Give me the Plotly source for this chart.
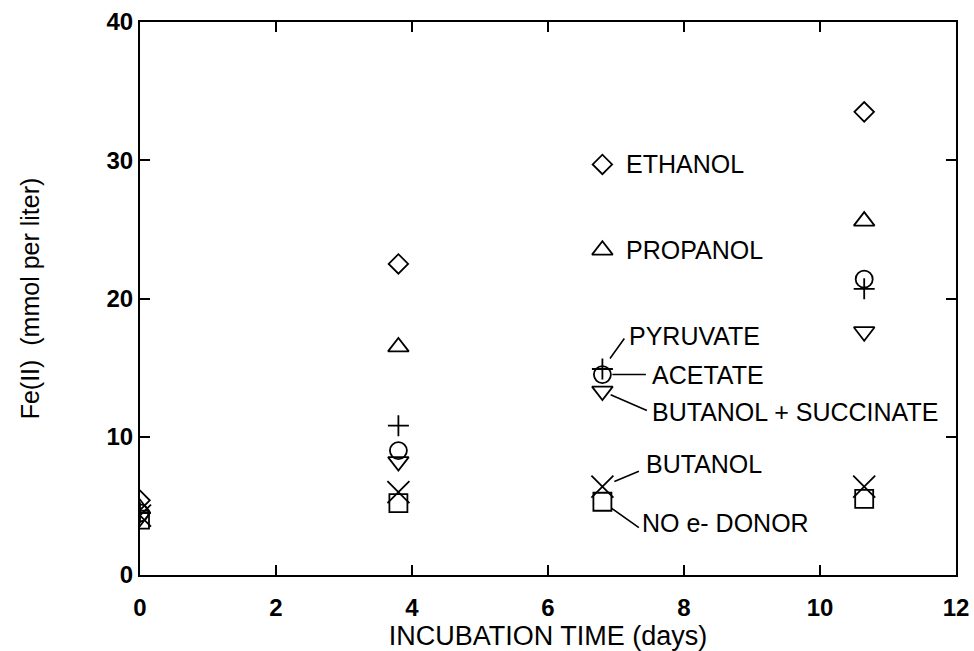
import plotly.graph_objects as go

days = [0, 3.8, 6.8, 10.65]
ethanol = [5.4, 22.5, 29.7, 33.5]
propanol = [4.8, 16.5, 23.5, 25.6]
pyruvate = [4.5, 10.8, 14.9, 20.7]
acetate = [4.5, 9.0, 14.5, 21.4]
butanol_succinate = [4.2, 8.2, 13.3, 17.6]
butanol = [4.3, 6.0, 6.4, 6.4]
no_donor = [4.0, 5.2, 5.3, 5.5]

FONT = "Liberation Sans, Arial, sans-serif"

series = [
    ("ETHANOL", ethanol, "diamond-open", 15),
    ("PROPANOL", propanol, "triangle-up-open", 18),
    ("PYRUVATE", pyruvate, "cross-thin-open", 15),
    ("ACETATE", acetate, "circle-open", 17),
    ("BUTANOL + SUCCINATE", butanol_succinate, "triangle-down-open", 18),
    ("BUTANOL", butanol, "x-thin-open", 22),
    ("NO e- DONOR", no_donor, "square-open", 18),
]

fig = go.Figure()
for name, vals, sym, size in series:
    fig.add_trace(go.Scatter(
        x=days, y=vals, mode="markers", name=name,
        marker=dict(symbol=sym, size=size, color="black",
                    line=dict(color="black", width=1.8)),
    ))

# labels next to the day-6.8 points: (text, series, xshift, yshift)
labels = [
    ("ETHANOL", ethanol, 22, 0),
    ("PROPANOL", propanol, 22, 0),
    ("PYRUVATE", pyruvate, 25, 33),
    ("ACETATE", acetate, 48, 0),
    ("BUTANOL + SUCCINATE", butanol_succinate, 48, -21),
    ("BUTANOL", butanol, 42, 23),
    ("NO e- DONOR", no_donor, 38, -21),
]
for text, vals, xs, ys in labels:
    fig.add_annotation(x=days[2], y=vals[2], text=text, showarrow=False,
                       xanchor="left", yanchor="middle", xshift=xs, yshift=ys,
                       font=dict(family=FONT, size=25, color="black"))

# leader lines: (series, ax, ay, standoff)
leaders = [
    (pyruvate, 23, -32, 13),
    (acetate, 45, 0, 10),
    (butanol_succinate, 46, 20, 9),
    (butanol, 38, -16, 13),
    (no_donor, 38, 27, 11),
]
for vals, ax, ay, so in leaders:
    fig.add_annotation(x=days[2], y=vals[2], text="", showarrow=True,
                       arrowhead=0, arrowwidth=1.6, arrowcolor="black",
                       ax=ax, ay=ay, standoff=so)

axis_common = dict(
    showline=True, linecolor="black", linewidth=2.2, mirror="ticks",
    ticks="inside", ticklen=10, tickwidth=1.8, tickcolor="black",
    showgrid=False, zeroline=False, automargin=False,
    tickfont=dict(family=FONT, size=24, color="black", weight="bold"),
)
fig.update_xaxes(range=[0, 12], dtick=2, ticklabelstandoff=10, **axis_common,
                 title=dict(text="INCUBATION TIME (days)", standoff=6,
                            font=dict(family=FONT, size=27, color="black")))
fig.update_yaxes(range=[0, 40], dtick=10, ticklabelstandoff=0, **axis_common,
                 title=dict(text="Fe(II)  (mmol per liter)", standoff=60,
                            font=dict(family=FONT, size=25, color="black")))

fig.update_layout(
    width=974, height=651,
    margin=dict(l=140, r=18, t=22, b=76),
    paper_bgcolor="white", plot_bgcolor="white",
    showlegend=False,
    font=dict(family=FONT, color="black"),
)
fig.write_html("out.html", config={"displayModeBar": False},
               post_script="document.body.style.margin='0';"
                           "document.body.style.overflow='hidden';")
